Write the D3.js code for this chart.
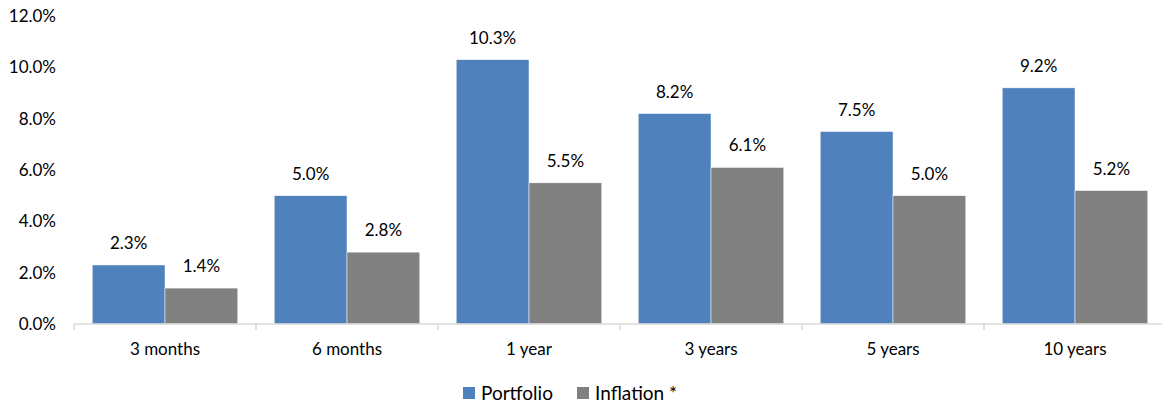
<!DOCTYPE html>
<html>
<head>
<meta charset="utf-8">
<script src="https://cdn.jsdelivr.net/npm/d3@7"></script>
<style>
  body { margin: 0; background: #fff; }
  text { font-family: Lato, "Open Sans", sans-serif; fill: #000; }
</style>
</head>
<body>
<div class="canvas"></div>
<script>
const categories = ['3 months', '6 months', '1 year', '3 years', '5 years', '10 years']
const seriesNames = ['Portfolio', 'Inflation *']
const portfolio = [2.3, 5.0, 10.3, 8.2, 7.5, 9.2]
const inflation = [1.4, 2.8, 5.5, 6.1, 5.0, 5.2]
const yTicks = [0, 2, 4, 6, 8, 10, 12]
const colors = ['#4f81bd', '#808080']

const width = 1162, height = 406
const margin = {top: 16, right: -4, bottom: 82, left: 74}
const graphWidth = width - margin.left - margin.right
const graphHeight = height - margin.top - margin.bottom

const svg = d3.select('.canvas')
    .append('svg')
    .attr('width', width)
    .attr('height', height)

const graph = svg.append('g')
    .attr('transform', `translate(${margin.left}, ${margin.top})`)

const x = d3.scaleBand()
    .domain(categories)
    .range([0, graphWidth])
    .paddingInner(0.2)
    .paddingOuter(0.1)

const x1 = d3.scaleBand()
    .domain(seriesNames)
    .range([0, x.bandwidth()])

const y = d3.scaleLinear()
    .domain([0, 12])
    .range([graphHeight, 0])

const rows = categories.map((c, i) => ({cat: c, vals: [portfolio[i], inflation[i]]}))

const groups = graph.selectAll('.grp')
    .data(rows)
    .enter()
    .append('g')
    .attr('transform', d => `translate(${x(d.cat)}, 0)`)

groups.selectAll('rect')
    .data(d => d.vals.map((v, j) => ({name: seriesNames[j], v, j})))
    .enter()
    .append('rect')
    .attr('x', d => x1(d.name))
    .attr('y', d => y(d.v))
    .attr('width', x1.bandwidth())
    .attr('height', d => graphHeight - y(d.v))
    .attr('fill', d => colors[d.j])
    .attr('stroke', '#fff')
    .attr('stroke-width', 0.5)

groups.selectAll('.lbl')
    .data(d => d.vals.map((v, j) => ({name: seriesNames[j], v})))
    .enter()
    .append('text')
    .attr('x', d => x1(d.name) + x1.bandwidth() / 2)
    .attr('y', d => y(d.v) - 16)
    .attr('text-anchor', 'middle')
    .attr('font-size', 17)
    .text(d => d.v.toFixed(1) + '%')

// y axis labels (no line)
graph.selectAll('.ytick')
    .data(yTicks)
    .enter()
    .append('text')
    .attr('x', -18)
    .attr('y', d => y(d))
    .attr('dy', '0.35em')
    .attr('text-anchor', 'end')
    .attr('font-size', 17)
    .text(d => d.toFixed(1) + '%')

// x axis
const xAxisGroup = graph.append('g')
    .attr('transform', `translate(0, ${graphHeight})`)

xAxisGroup.append('line')
    .attr('x1', 0).attr('x2', graphWidth)
    .attr('y1', 0).attr('y2', 0)
    .attr('stroke', '#d9d9d9')
    .attr('stroke-width', 1.5)

const tickPos = d3.range(categories.length + 1).map(i => i * graphWidth / categories.length)
xAxisGroup.selectAll('.tk')
    .data(tickPos)
    .enter()
    .append('line')
    .attr('x1', d => d).attr('x2', d => d)
    .attr('y1', 0).attr('y2', 6)
    .attr('stroke', '#d9d9d9')
    .attr('stroke-width', 1.5)

xAxisGroup.selectAll('.cat')
    .data(categories)
    .enter()
    .append('text')
    .attr('x', d => x(d) + x.bandwidth() / 2)
    .attr('y', 25)
    .attr('dy', '0.35em')
    .attr('text-anchor', 'middle')
    .attr('font-size', 17)
    .text(d => d)

// legend
const legend = svg.append('g')
const legendX = [463, 577]
seriesNames.forEach((name, i) => {
    legend.append('rect')
        .attr('x', legendX[i])
        .attr('y', 387)
        .attr('width', 12)
        .attr('height', 12)
        .attr('fill', colors[i])
    legend.append('text')
        .attr('x', legendX[i] + 18)
        .attr('y', 393)
        .attr('dy', '0.35em')
        .attr('font-size', 19)
        .text(name)
})
</script>
</body>
</html>
